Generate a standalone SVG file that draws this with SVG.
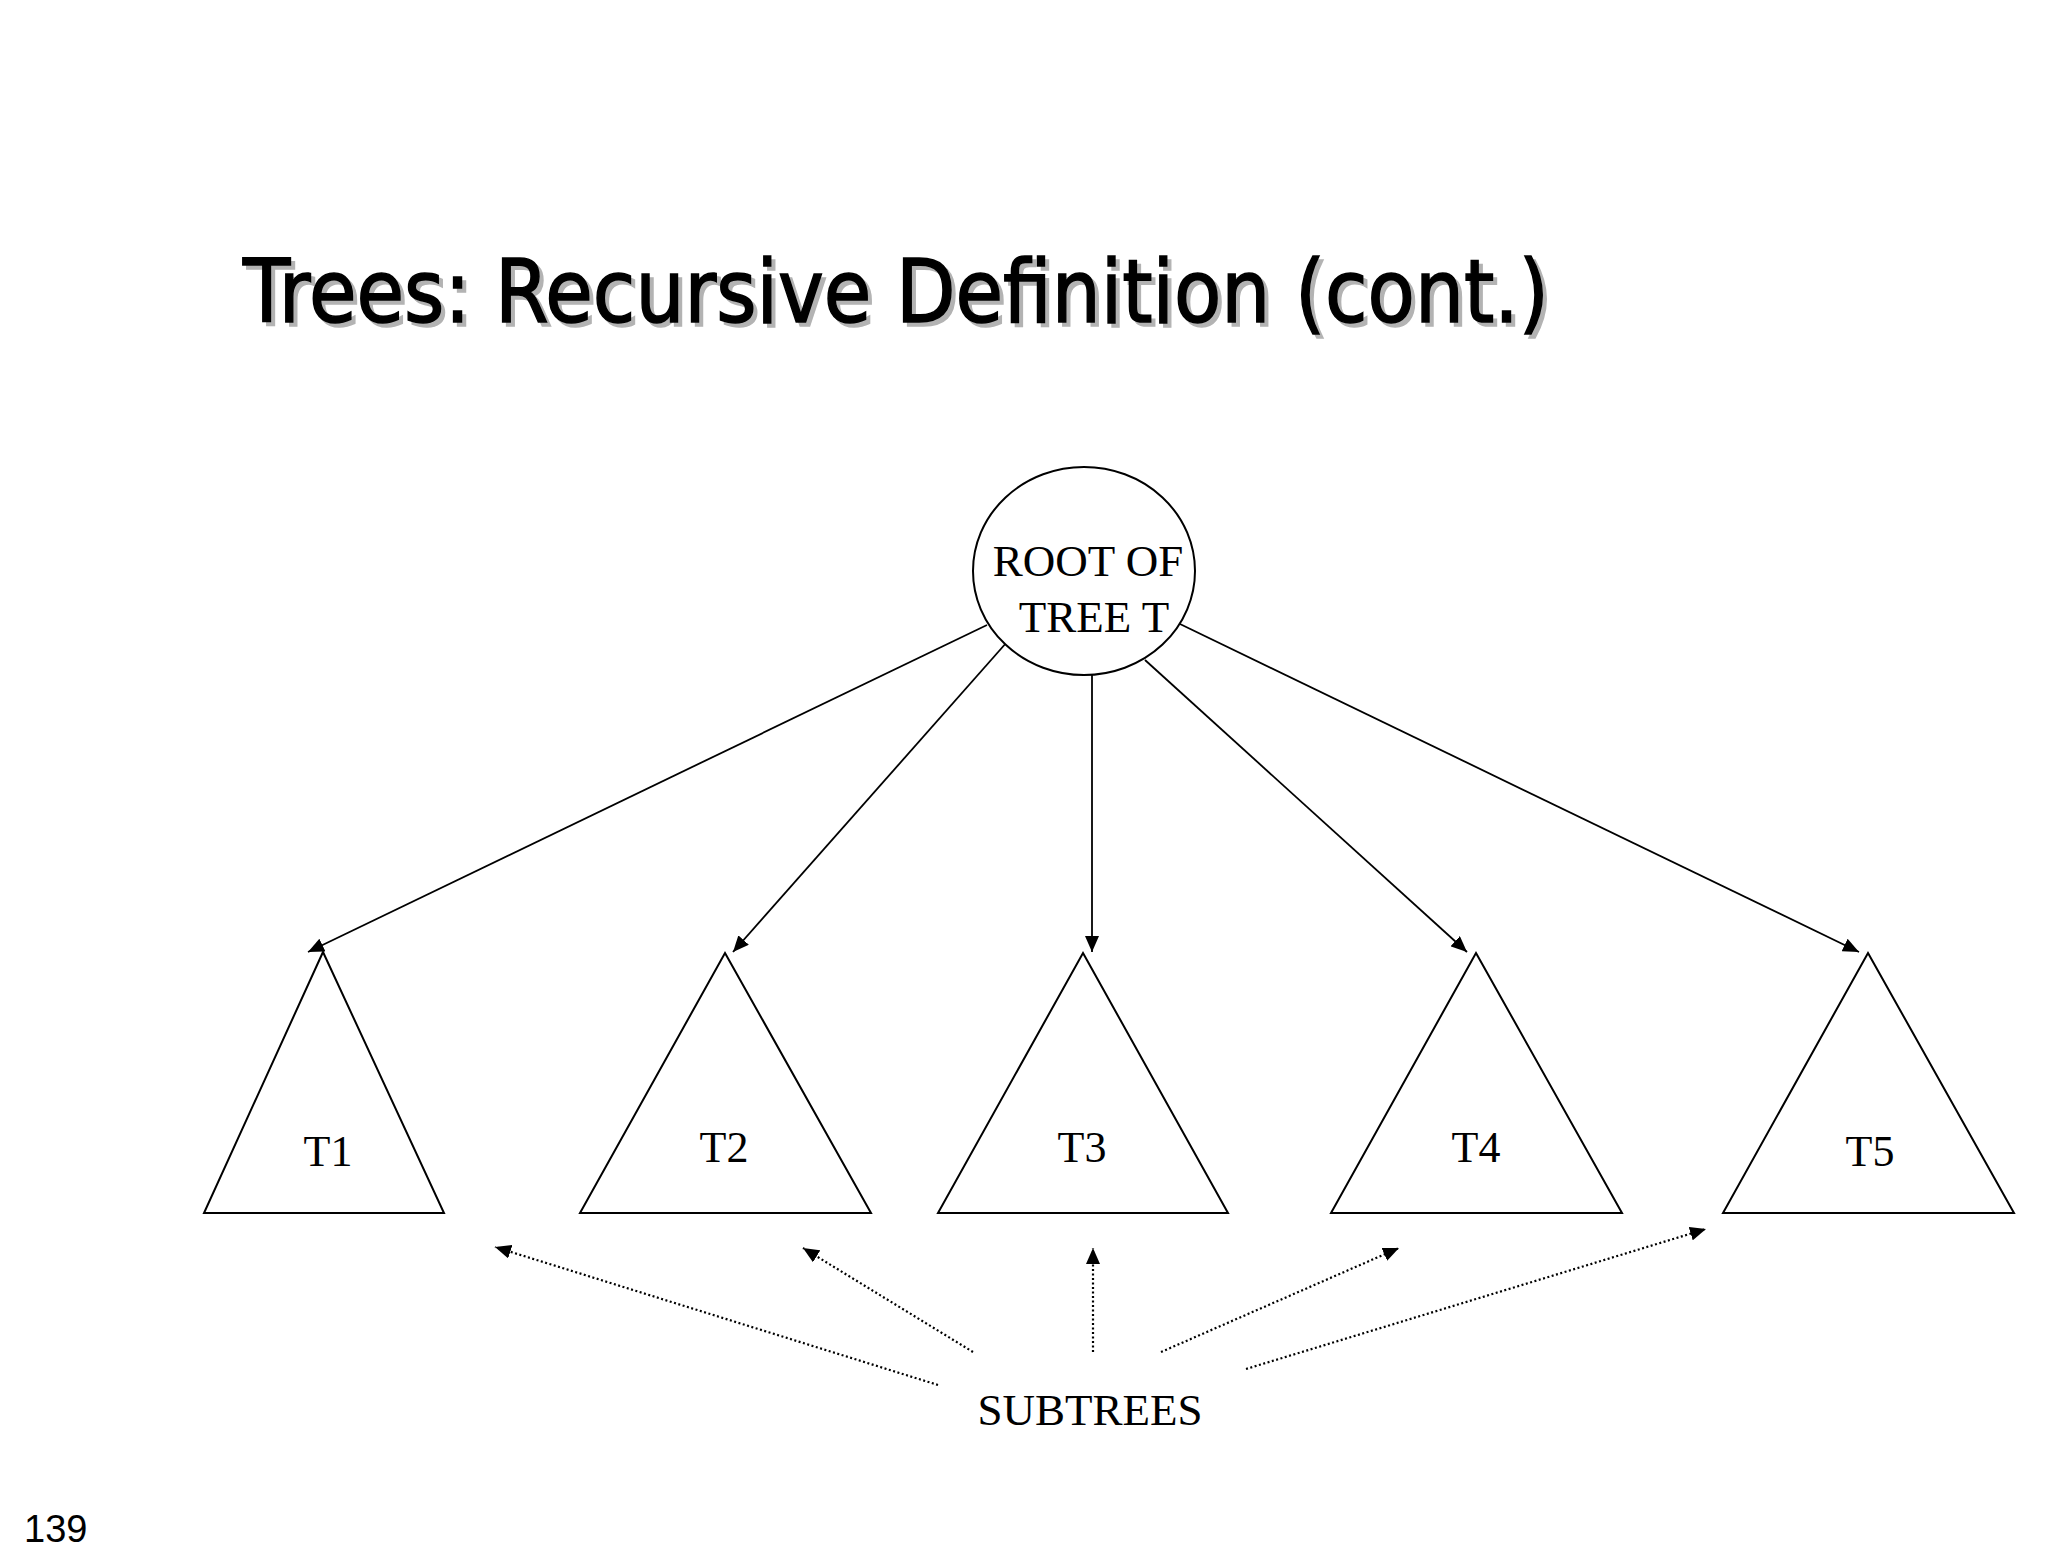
<svg xmlns="http://www.w3.org/2000/svg" width="2048" height="1560" viewBox="0 0 2048 1560">
  <style>
    .title { font-family: "DejaVu Sans", Verdana, sans-serif; font-size: 88px; }
    .lbl { font-family: "Liberation Serif", "Times New Roman", serif; font-size: 45px; fill: #000; text-anchor: middle; }
    .tlbl { font-family: "Liberation Serif", "Times New Roman", serif; font-size: 44px; fill: #000; text-anchor: middle; }
    .shape { fill: #fff; stroke: #000; stroke-width: 2; }
    .edge { stroke: #000; stroke-width: 1.8; fill: none; marker-end: url(#arrow); }
    .dot { stroke: #000; stroke-width: 2.2; fill: none; stroke-dasharray: 2 2.5; marker-end: url(#arrow); }
  </style>
  <defs>
    <marker id="arrow" viewBox="0 0 16 14" refX="16" refY="7" markerWidth="16" markerHeight="14" markerUnits="userSpaceOnUse" orient="auto">
      <path d="M0,0 L16,7 L0,14 Z" fill="#000"/>
    </marker>
  </defs>
  <rect width="2048" height="1560" fill="#fff"/>

  <g id="title">
    <text class="title" x="247" y="326" fill="#b3b3b3" stroke="#b3b3b3" stroke-width="1.6" textLength="1306" lengthAdjust="spacingAndGlyphs">Trees: Recursive Definition (cont.)</text>
    <text class="title" x="243" y="322" fill="#000" stroke="#000" stroke-width="1.6" textLength="1306" lengthAdjust="spacingAndGlyphs">Trees: Recursive Definition (cont.)</text>
  </g>

  <g id="connectors">
    <line class="edge" x1="987" y1="625" x2="308" y2="952"/>
    <line class="edge" x1="1007" y1="642" x2="733" y2="952"/>
    <line class="edge" x1="1092" y1="675" x2="1092" y2="952"/>
    <line class="edge" x1="1145" y1="660" x2="1467" y2="952"/>
    <line class="edge" x1="1180" y1="624" x2="1859" y2="952"/>
    <line class="dot" x1="938" y1="1385" x2="495" y2="1247"/>
    <line class="dot" x1="973" y1="1352" x2="803" y2="1248"/>
    <line class="dot" x1="1093" y1="1352" x2="1093" y2="1248"/>
    <line class="dot" x1="1161" y1="1352" x2="1399" y2="1248"/>
    <line class="dot" x1="1246" y1="1369" x2="1706" y2="1229"/>
  </g>

  <g id="root">
    <ellipse class="shape" cx="1084" cy="571" rx="111" ry="104"/>
    <text class="lbl" x="1088" y="576">ROOT OF</text>
    <text class="lbl" x="1094" y="632">TREE T</text>
  </g>

  <g id="T1">
    <polygon class="shape" points="323,952 444,1213 204,1213"/>
    <text class="tlbl" x="328" y="1166">T1</text>
  </g>
  <g id="T2">
    <polygon class="shape" points="725,953 871,1213 580,1213"/>
    <text class="tlbl" x="724" y="1162">T2</text>
  </g>
  <g id="T3">
    <polygon class="shape" points="1083,953 1228,1213 938,1213"/>
    <text class="tlbl" x="1082" y="1162">T3</text>
  </g>
  <g id="T4">
    <polygon class="shape" points="1476,953 1622,1213 1331,1213"/>
    <text class="tlbl" x="1476" y="1162">T4</text>
  </g>
  <g id="T5">
    <polygon class="shape" points="1868,953 2014,1213 1723,1213"/>
    <text class="tlbl" x="1870" y="1166">T5</text>
  </g>

  <g id="subtrees">
    <text class="lbl" x="1090" y="1425">SUBTREES</text>
  </g>

  <g id="page">
    <text x="24" y="1542" font-family="'Liberation Sans', Arial, sans-serif" font-size="38" fill="#000">139</text>
  </g>
</svg>
